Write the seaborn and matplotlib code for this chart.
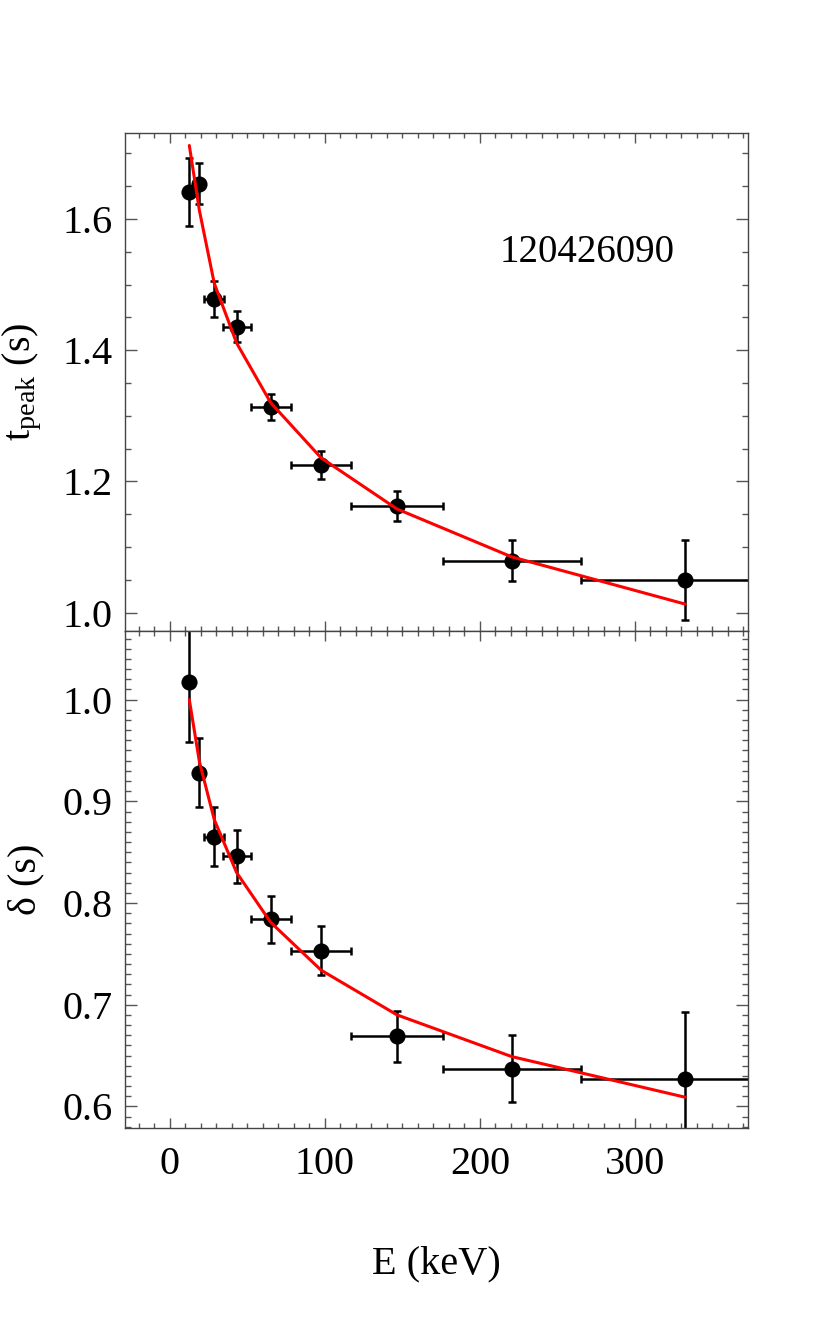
import numpy as np
import pandas as pd
import seaborn as sns
import matplotlib.pyplot as plt
from matplotlib.ticker import MultipleLocator

# values
energy = [12.5, 19.0, 28.6, 43.0, 65.0, 97.5, 146.5, 220.5, 332.5]
energy_err = [0, 0, 6.3, 9.0, 13.0, 19.5, 29.5, 44.5, 67.5]
t_peak = [1.641, 1.654, 1.478, 1.436, 1.313, 1.225, 1.162, 1.079, 1.050]
t_peak_err = [0.052, 0.031, 0.027, 0.024, 0.020, 0.021, 0.023, 0.031, 0.061]
t_peak_fit = [1.712, 1.613, 1.502, 1.411, 1.320, 1.236, 1.158, 1.085, 1.013]
delta = [1.017, 0.928, 0.865, 0.846, 0.784, 0.753, 0.669, 0.637, 0.627]
delta_err = [0.059, 0.034, 0.029, 0.026, 0.023, 0.024, 0.025, 0.033, 0.066]
delta_fit = [1.000, 0.939, 0.882, 0.830, 0.781, 0.734, 0.690, 0.649, 0.609]
burst_id = '120426090'

sns.set_theme(style='ticks')
plt.rcParams['font.family'] = ['Liberation Serif', 'DejaVu Serif']
plt.rcParams['mathtext.fontset'] = 'custom'
plt.rcParams['mathtext.rm'] = 'Liberation Serif'
plt.rcParams['mathtext.it'] = 'Liberation Serif:italic'
plt.rcParams['text.color'] = 'black'
plt.rcParams['axes.labelcolor'] = 'black'

df = pd.DataFrame({'E': energy, 'E_err': energy_err,
                   't_peak': t_peak, 't_peak_err': t_peak_err, 't_peak_fit': t_peak_fit,
                   'delta': delta, 'delta_err': delta_err, 'delta_fit': delta_fit})

fig = plt.figure(figsize=(8.3, 13.29), dpi=100)
ax_top = fig.add_axes([0.1506, 0.5252, 0.7506, 0.3747])
ax_bot = fig.add_axes([0.1506, 0.1512, 0.7506, 0.3740], sharex=ax_top)


def draw_panel(ax, col, ylabel):
    ax.errorbar(df['E'], df[col], yerr=df[col + '_err'], xerr=df['E_err'],
                fmt='none', ecolor='black', elinewidth=1.8, capsize=2.9,
                capthick=1.8, zorder=2)
    sns.scatterplot(data=df, x='E', y=col, ax=ax, color='black', s=135,
                    edgecolor='black', linewidth=0, zorder=3, legend=False)
    sns.lineplot(data=df, x='E', y=col + '_fit', ax=ax, color='#ff0000',
                 linewidth=2.2, sort=False, estimator=None, zorder=4)
    ax.set_ylabel(ylabel, fontsize=29, color='black')
    ax.yaxis.set_label_coords(-0.13, 0.5)
    ax.set_xlabel('')
    for side in ['top', 'bottom', 'left', 'right']:
        ax.spines[side].set_visible(True)
        ax.spines[side].set_color('#444444')
        ax.spines[side].set_linewidth(1.0)
    ax.xaxis.set_major_locator(MultipleLocator(100))
    ax.xaxis.set_minor_locator(MultipleLocator(10))
    ax.tick_params(axis='both', which='both', direction='in', top=True,
                   right=True, colors='#555555', labelcolor='black',
                   labelsize=29, width=1.0)
    ax.tick_params(axis='x', which='major', length=7, pad=13)
    ax.tick_params(axis='x', which='minor', length=3.5)
    ax.tick_params(axis='y', which='major', length=8.6, pad=9)
    ax.tick_params(axis='y', which='minor', length=4.3)


draw_panel(ax_top, 't_peak', r'$\mathrm{t_{peak}}$ (s)')
draw_panel(ax_bot, 'delta', 'δ (s)')

ax_top.set_xlim(-29, 373)
ax_top.set_ylim(0.972, 1.731)
ax_top.yaxis.set_major_locator(MultipleLocator(0.2))
ax_top.yaxis.set_minor_locator(MultipleLocator(0.05))
ax_top.yaxis.set_major_formatter(plt.FormatStrFormatter('%.1f'))
ax_top.tick_params(axis='x', labelbottom=False)
ax_top.text(0.742, 0.761, burst_id, transform=ax_top.transAxes,
            ha='center', va='center', fontsize=28, color='black')

ax_bot.set_ylim(0.5787, 1.0675)
ax_bot.yaxis.set_major_locator(MultipleLocator(0.1))
ax_bot.yaxis.set_minor_locator(MultipleLocator(0.01))
ax_bot.yaxis.set_major_formatter(plt.FormatStrFormatter('%.1f'))
ax_bot.set_xlabel('E (keV)', fontsize=29, labelpad=45, color='black')

fig.savefig('out.png', dpi=100)
